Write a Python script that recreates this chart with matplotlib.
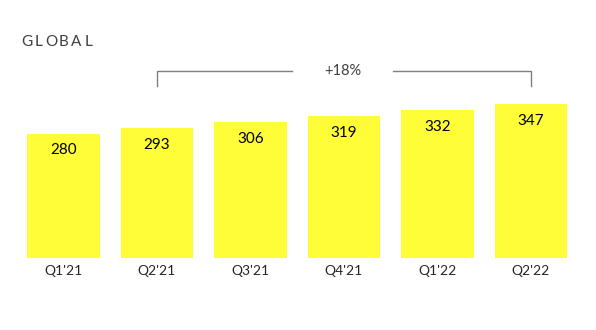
import matplotlib.pyplot as plt

plt.rcParams['font.family'] = ['Lato', 'DejaVu Sans']

quarters = ["Q1'21", "Q2'21", "Q3'21", "Q4'21", "Q1'22", "Q2'22"]
users = [280, 293, 306, 319, 332, 347]
growth_label = '+18%'
title = 'GLOBAL'

fig = plt.figure(figsize=(5.96, 3.30), dpi=100)
# axes spans the full width, bottom at bar baseline
ax = fig.add_axes([0, (330 - 257.7) / 330, 1, (257.7 - 20) / 330])
x = list(range(len(quarters)))
ax.bar(x, users, width=0.777, color='#FFFC38')
ax.set_xlim(-63.5 / 93.5, (596 - 63.5) / 93.5)
ax.set_ylim(0, 237.7 / 0.4435)

for xi, v in zip(x, users):
    ax.text(xi, v - 38, str(v), ha='center', va='center', fontsize=11, color='black')

ax.set_xticks(x)
ax.set_xticklabels(quarters, fontsize=10, color='#262626')
ax.tick_params(axis='x', length=0, pad=5)
ax.set_yticks([])
for s in ax.spines.values():
    s.set_visible(False)

# bracket from Q2'21 to Q2'22
yb = (257.7 - 70.7) / 0.4435
yv = (257.7 - 85.5) / 0.4435
x0, x1 = 1, 5
xt = (342.7 - 63.5) / 93.5
gl = (292 - 63.5) / 93.5
gr = (393 - 63.5) / 93.5
ax.plot([x0, x0, gl], [yv, yb, yb], color='#7f7f7f', lw=1)
ax.plot([gr, x1, x1], [yb, yb, yv], color='#7f7f7f', lw=1)
ax.text(xt, yb, growth_label, ha='center', va='center', fontsize=10.5, color='#404040')

# letter-spaced title, each letter centred
for i, ch in enumerate(title):
    fig.text((26.5 + i * 12.4) / 596, 1 - 42 / 330, ch, ha='center', va='center',
             fontsize=11, color='#404040')

fig.savefig('out.png', dpi=100)
